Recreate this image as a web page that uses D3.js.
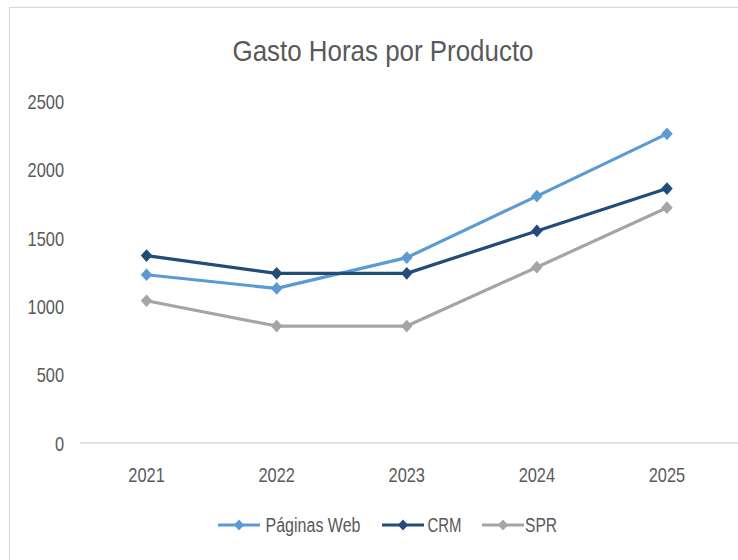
<!DOCTYPE html>
<html>
<head>
<meta charset="utf-8">
<script src="https://cdn.jsdelivr.net/npm/d3@7"></script>
<style>
  html, body { margin: 0; padding: 0; background: #fff; }
  svg { display: block; }
  text { font-family: "Liberation Sans Narrow", "Arial Narrow", "Liberation Sans", sans-serif; fill: #595959; }
</style>
</head>
<body>
<svg id="chart" width="738" height="560"></svg>
<script>
const title = "Gasto Horas por Producto";
const categories = ["2021", "2022", "2023", "2024", "2025"];
const seriesNames = ["Páginas Web", "CRM", "SPR"];
const paginasWeb = [1230, 1130, 1355, 1805, 2260];
const crm = [1370, 1240, 1240, 1550, 1860];
const spr = [1040, 855, 855, 1285, 1720];
const yTicks = [0, 500, 1000, 1500, 2000, 2500];
const colors = ["#5B9BD5", "#224C79", "#A5A5A5"];

const series = [
  { name: seriesNames[0], values: paginasWeb, color: colors[0] },
  { name: seriesNames[1], values: crm, color: colors[1] },
  { name: seriesNames[2], values: spr, color: colors[2] }
];

const svg = d3.select("#chart");
const narrow = 0.82;

// chart frame
svg.append("rect")
  .attr("x", 9.5).attr("y", 7.5)
  .attr("width", 760).attr("height", 600)
  .attr("fill", "#fff")
  .attr("stroke", "#d9d9d9").attr("stroke-width", 1.2);

// title
svg.append("text")
  .attr("x", 232.5).attr("y", 61)
  .attr("font-size", 30)
  .attr("textLength", 301)
  .attr("lengthAdjust", "spacingAndGlyphs")
  .text(title);

const x = d3.scaleBand().domain(categories).range([81.5, 732]);
const y = d3.scaleLinear().domain([0, 2500]).range([443, 101]);

// baseline
svg.append("line")
  .attr("x1", 80).attr("x2", 738)
  .attr("y1", y(0)).attr("y2", y(0))
  .attr("stroke", "#d9d9d9").attr("stroke-width", 1.3);

// y labels
const yAxis = d3.axisLeft(y).tickValues(yTicks).tickFormat(d3.format("d")).tickSize(0).tickPadding(0);
const gy = svg.append("g").attr("transform", "translate(64,0)").call(yAxis);
gy.attr("font-family", null).attr("font-size", null);
gy.select(".domain").remove();
gy.selectAll("text")
  .attr("font-size", 20)
  .attr("dy", "0.36em")
  .attr("transform", `scale(${narrow},1)`)
  .attr("fill", "#595959");

// x labels
const xAxis = d3.axisBottom(x).tickSize(0).tickPadding(0);
const gx = svg.append("g").attr("transform", "translate(0,467)").call(xAxis);
gx.attr("font-family", null).attr("font-size", null);
gx.select(".domain").remove();
gx.selectAll("text")
  .attr("font-size", 20)
  .attr("dy", "0.73em")
  .attr("transform", `scale(${narrow},1)`)
  .attr("fill", "#595959");

const cx = d => x(d) + x.bandwidth() / 2;
const line = d3.line().x((v, i) => cx(categories[i])).y(v => y(v));
const diamond = d3.symbol().type(d3.symbolDiamond2).size(85);

series.forEach(s => {
  svg.append("path")
    .attr("d", line(s.values))
    .attr("fill", "none")
    .attr("stroke", s.color)
    .attr("stroke-width", 3.2)
    .attr("stroke-linejoin", "round")
    .attr("stroke-linecap", "round");
  svg.append("g").selectAll("path")
    .data(s.values)
    .join("path")
    .attr("d", diamond)
    .attr("transform", (v, i) => `translate(${cx(categories[i])},${y(v)}) scale(1,1.1)`)
    .attr("fill", s.color);
});

// legend
const legendItems = [
  { lx: 218, tx: 265.5, tw: 95 },
  { lx: 382, tx: 427.5, tw: 34 },
  { lx: 482, tx: 525, tw: 32 }
];
const ly = 525;
const legendDiamond = d3.symbol().type(d3.symbolDiamond2).size(65);
series.forEach((s, i) => {
  const it = legendItems[i];
  const g = svg.append("g");
  g.append("line")
    .attr("x1", it.lx).attr("x2", it.lx + 42)
    .attr("y1", ly).attr("y2", ly)
    .attr("stroke", s.color).attr("stroke-width", 3.2);
  g.append("path")
    .attr("d", legendDiamond)
    .attr("transform", `translate(${it.lx + 21},${ly}) scale(1,1.1)`)
    .attr("fill", s.color);
  g.append("text")
    .attr("x", it.tx).attr("y", ly)
    .attr("dy", "0.36em")
    .attr("font-size", 20)
    .attr("textLength", it.tw)
    .attr("lengthAdjust", "spacingAndGlyphs")
    .text(s.name);
});
</script>
</body>
</html>
